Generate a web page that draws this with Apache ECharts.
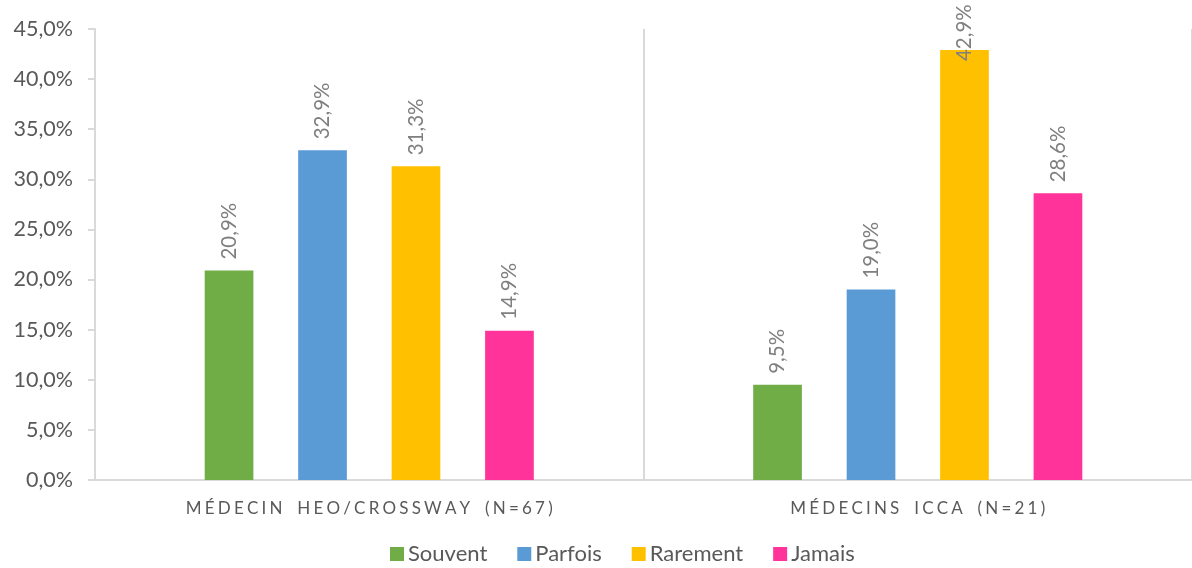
<!DOCTYPE html>
<html>
<head>
<meta charset="utf-8">
<script src="https://cdn.jsdelivr.net/npm/echarts@6/dist/echarts.min.js"></script>
<style>
  html, body { margin: 0; padding: 0; background: #fff; }
  #chart { width: 1192px; height: 568px; }
</style>
</head>
<body>
<div id="chart"></div>
<script>
// groupes et valeurs (%)
const categories = ['MÉDECIN HEO/CROSSWAY (N=67)', 'MÉDECINS ICCA (N=21)']
const souvent = [20.9, 9.5]
const parfois = [32.9, 19.0]
const rarement = [31.3, 42.9]
const jamais = [14.9, 28.6]
const yTicks = [0, 5, 10, 15, 20, 25, 30, 35, 40, 45]

const fontFamily = 'Lato, "Open Sans", sans-serif'

// espacement des lettres comme dans Excel
function spaced(s) {
  return s.split('').map(c => (c === ' ' ? '\u2002' : c)).join('\u2009\u200a')
}

function pct(v) {
  return v.toFixed(1).replace('.', ',') + '%'
}

const chart = echarts.init(document.getElementById('chart'))

function bar(name, data, color) {
  return {
    name: name,
    type: 'bar',
    data: data.map(v => {
      // le label de 42,9% déborde dans la barre dans l'original
      if (v > 40) {
        return { value: v, label: { offset: [-22, 0] } }
      }
      return v
    }),
    barGap: '92%',
    barCategoryGap: '40%',
    itemStyle: { color: color },
    label: {
      show: true,
      position: 'top',
      rotate: 90,
      align: 'left',
      verticalAlign: 'middle',
      distance: 11,
      color: '#7f7f7f',
      fontSize: 20.5,
      fontFamily: fontFamily,
      formatter: p => pct(p.value)
    }
  }
}

const option = {
  animation: false,
  legend: {
    top: 538,
    left: 385,
    itemWidth: 14,
    itemHeight: 14,
    itemGap: 30,
    icon: 'rect',
    textStyle: { color: '#595959', fontSize: 22, fontFamily: fontFamily, padding: [0, 0, 0, -1] },
    data: ['Souvent', 'Parfois', 'Rarement', 'Jamais']
  },
  grid: {
    left: 95,
    top: 29,
    width: 1106,
    height: 451,
    containLabel: false
  },
  xAxis: {
    type: 'category',
    data: categories,
    axisLine: { lineStyle: { color: '#d9d9d9', width: 2 } },
    axisTick: { show: false },
    splitLine: { show: true, lineStyle: { color: '#d9d9d9', width: 2 } },
    axisLabel: {
      color: '#595959',
      fontSize: 17,
      fontFamily: fontFamily,
      margin: 20,
      formatter: v => spaced(v)
    }
  },
  yAxis: {
    type: 'value',
    min: 0,
    max: 45,
    interval: 5,
    axisLine: { show: true, lineStyle: { color: '#d9d9d9', width: 2 } },
    axisTick: { show: true, length: 7, lineStyle: { color: '#d9d9d9', width: 2 } },
    splitLine: { show: false },
    axisLabel: {
      color: '#595959',
      fontSize: 21.5,
      fontFamily: fontFamily,
      margin: 22,
      formatter: v => (yTicks.includes(v) ? pct(v) : '')
    }
  },
  series: [
    bar('Souvent', souvent, '#70ad47'),
    bar('Parfois', parfois, '#5b9bd5'),
    bar('Rarement', rarement, '#ffc000'),
    bar('Jamais', jamais, '#ff3399')
  ]
}

chart.setOption(option)
</script>
</body>
</html>
